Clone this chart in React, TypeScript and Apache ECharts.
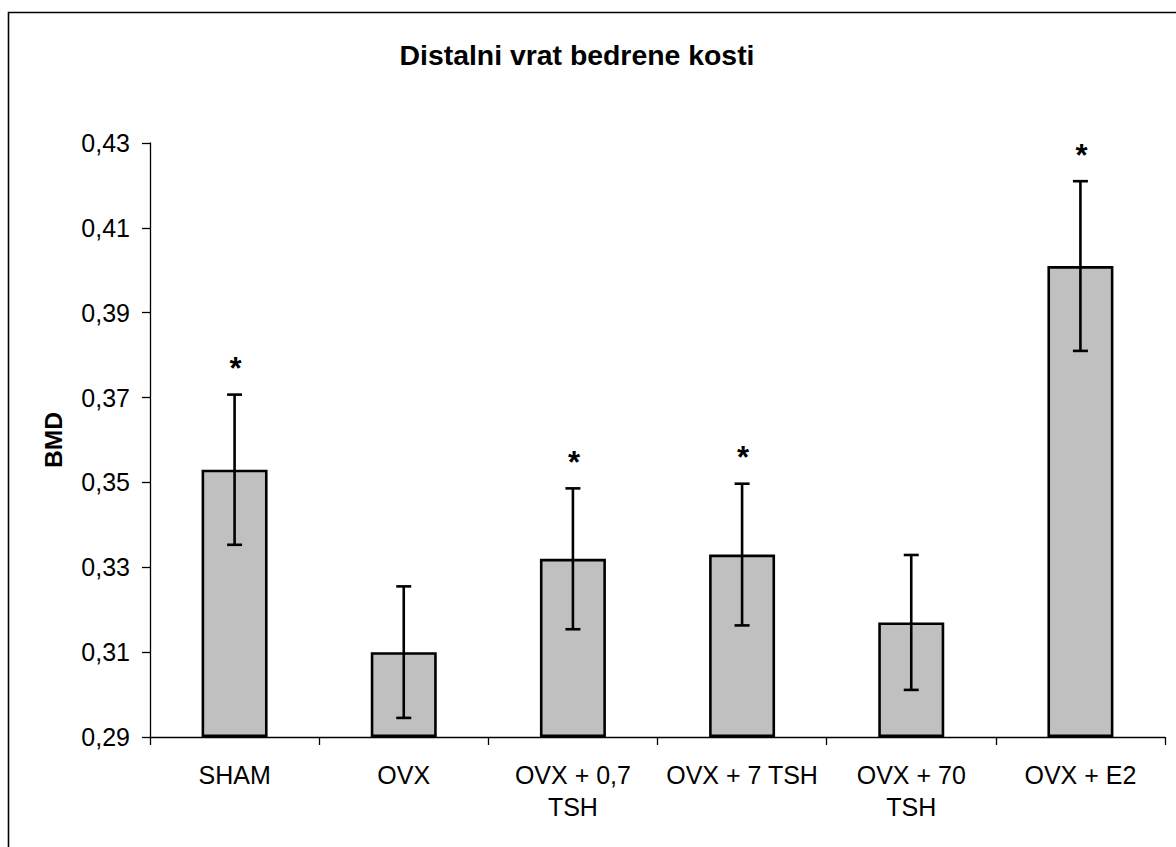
import React, { useEffect, useRef } from "react";
import * as echarts from "echarts";

const categories = ["SHAM", "OVX", "OVX + 0,7 TSH", "OVX + 7 TSH", "OVX + 70 TSH", "OVX + E2"];
const tickLabels = ["SHAM", "OVX", "OVX + 0,7\nTSH", "OVX + 7 TSH", "OVX + 70\nTSH", "OVX + E2"];
const means = [0.353, 0.310, 0.332, 0.333, 0.317, 0.401];
const errors = [0.0177, 0.0155, 0.0166, 0.0167, 0.0159, 0.020];
const significant = [1, 0, 1, 1, 0, 1];
const axisBase = 0.29;
const axisTop = 0.43;
const axisStep = 0.02;

const FONT = "'Liberation Sans', Arial, Helvetica, sans-serif";

export default function App() {
  const ref = useRef<HTMLDivElement>(null);
  useEffect(() => {
    if (!ref.current) return;
    const chart = echarts.init(ref.current, null, { renderer: "svg" });
    const barData = means.map((m) => +(m - axisBase).toFixed(5));
    const errData = means.map((m, i) => [
      i,
      +(m - errors[i] - axisBase).toFixed(5),
      +(m + errors[i] - axisBase).toFixed(5),
      significant[i],
    ]);
    chart.setOption({
      animation: false,
      backgroundColor: "#fff",
      textStyle: { fontFamily: FONT },
      grid: { left: 150, top: 143, right: 11, bottom: 110, containLabel: false },
      graphic: [
        {
          type: "rect",
          shape: { x: 8.5, y: 12.5, width: 1400, height: 1200 },
          style: { fill: "none", stroke: "#000", lineWidth: 1.6 },
          silent: true,
        },
        {
          type: "text",
          x: 577,
          y: 55,
          style: {
            text: "Distalni vrat bedrene kosti",
            font: `bold 28.4px ${FONT}`,
            fill: "#000",
            textAlign: "center",
            textVerticalAlign: "middle",
          },
        },
        {
          type: "text",
          x: 53,
          y: 440,
          rotation: Math.PI / 2,
          style: {
            text: "BMD",
            font: `bold 24.6px ${FONT}`,
            fill: "#000",
            textAlign: "center",
            textVerticalAlign: "middle",
          },
        },
      ],
      xAxis: {
        type: "category",
        data: categories,
        axisLine: { lineStyle: { color: "#000", width: 1.3 } },
        axisTick: { show: true, length: 8, lineStyle: { color: "#000", width: 1.3 } },
        axisLabel: {
          color: "#000",
          fontSize: 25,
          fontFamily: FONT,
          margin: 22,
          lineHeight: 32,
          interval: 0,
          formatter: (_v: string, idx: number) => tickLabels[idx],
        },
        splitLine: { show: false },
      },
      yAxis: {
        type: "value",
        min: 0,
        max: +(axisTop - axisBase).toFixed(5),
        interval: axisStep,
        axisLine: { show: true, lineStyle: { color: "#000", width: 1.3 } },
        axisTick: { show: true, length: 8, lineStyle: { color: "#000", width: 1.3 } },
        axisLabel: {
          color: "#000",
          fontSize: 25,
          fontFamily: FONT,
          margin: 20,
          formatter: (v: number) => (v + axisBase).toFixed(2).replace(".", ","),
        },
        splitLine: { show: false },
      },
      series: [
        {
          type: "bar",
          data: barData,
          barWidth: 66,
          itemStyle: { color: "#c0c0c0", borderColor: "#000", borderWidth: 2.6 },
          z: 2,
        },
        {
          type: "custom",
          data: errData,
          encode: { x: 0, y: [1, 2] },
          z: 5,
          renderItem: (_params: any, api: any) => {
            const i = api.value(0);
            const lo = api.coord([i, api.value(1)]);
            const hi = api.coord([i, api.value(2)]);
            const half = 7.5;
            const style = { stroke: "#000", lineWidth: 2.6 };
            const children: any[] = [
              { type: "line", shape: { x1: hi[0], y1: hi[1], x2: lo[0], y2: lo[1] }, style },
              { type: "line", shape: { x1: hi[0] - half, y1: hi[1], x2: hi[0] + half, y2: hi[1] }, style },
              { type: "line", shape: { x1: lo[0] - half, y1: lo[1], x2: lo[0] + half, y2: lo[1] }, style },
            ];
            if (api.value(3)) {
              children.push({
                type: "text",
                x: hi[0] + 1,
                y: hi[1] - 26,
                style: {
                  text: "*",
                  font: `bold 31px ${FONT}`,
                  fill: "#000",
                  textAlign: "center",
                  textVerticalAlign: "middle",
                },
              });
            }
            return { type: "group", children };
          },
        },
      ],
    });
    return () => chart.dispose();
  }, []);
  return (
    <div
      ref={ref}
      style={{ position: "fixed", left: 0, top: 0, width: 1176, height: 847, background: "#fff" }}
    />
  );
}
